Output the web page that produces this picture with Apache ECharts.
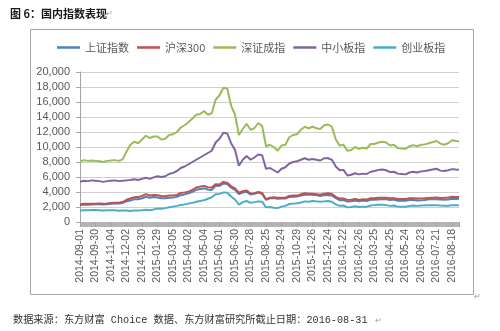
<!DOCTYPE html>
<html>
<head>
<meta charset="utf-8">
<script src="https://cdn.jsdelivr.net/npm/echarts@6/dist/echarts.min.js"></script>
<style>
  html, body { margin: 0; padding: 0; background: #ffffff; }
  #chart { width: 500px; height: 331px; }
</style>
</head>
<body>
<div id="chart"></div>
<script>
// Trading-day number (0 = 2014-09-01) of each weekly sample
const tradingDay = [
  0, 5, 10, 15, 20, 25, 30, 35, 40, 45,
  50, 55, 60, 65, 70, 75, 80, 85, 90, 95,
  100, 105, 110, 115, 120, 125, 130, 135, 140, 145,
  150, 155, 160, 165, 170, 175, 180, 185, 190, 195,
  200, 205, 210, 215, 220, 225, 230, 235, 240, 245,
  250, 255, 260, 265, 270, 275, 280, 285, 290, 295,
  300, 305, 310, 315, 320, 325, 330, 335, 340, 345,
  350, 355, 360, 365, 370, 375, 380, 385, 390, 395,
  400, 405, 410, 415, 420, 425, 430, 435, 440, 445,
  450, 455, 460, 465, 470, 475, 480, 485, 489
];

// Axis labels, one every 20 trading days
const tickLabels = [
  '2014-09-01', '2014-09-30', '2014-11-04', '2014-12-02', '2014-12-30',
  '2015-01-29', '2015-03-05', '2015-04-02', '2015-05-04', '2015-06-01',
  '2015-06-30', '2015-07-28', '2015-08-25', '2015-09-24', '2015-10-29',
  '2015-11-26', '2015-12-24', '2016-01-22', '2016-02-26', '2016-03-25',
  '2016-04-25', '2016-05-24', '2016-06-23', '2016-07-21', '2016-08-18'
];

const seriesNames = ['上证指数', '沪深300', '深证成指', '中小板指', '创业板指'];

const shanghai = [
  2235, 2330, 2290, 2330, 2364, 2370, 2340, 2370, 2430, 2470,
  2460, 2540, 2760, 2860, 3020, 3030, 3165, 3370, 3220, 3320,
  3260, 3170, 3170, 3230, 3250, 3350, 3580, 3680, 3825, 4030,
  4290, 4390, 4480, 4330, 4280, 4810, 4830, 5130, 5060, 4580,
  4280, 3730, 3920, 4020, 3660, 3760, 3930, 3750, 2960, 3170,
  3200, 3100, 3140, 3140, 3340, 3370, 3390, 3520, 3630, 3620,
  3640, 3580, 3460, 3580, 3610, 3540, 3190, 2900, 2920, 2740,
  2780, 2860, 2770, 2870, 2810, 2960, 2980, 3010, 3030, 3030,
  2946, 2990, 2830, 2840, 2820, 2920, 2930, 2870, 2890, 2930,
  3020, 3050, 3040, 2990, 2980, 3000, 3100, 3070, 3085
];

const hs300 = [
  2360, 2450, 2420, 2450, 2450, 2460, 2440, 2460, 2530, 2580,
  2560, 2660, 2960, 3130, 3290, 3320, 3490, 3720, 3540, 3610,
  3570, 3460, 3450, 3520, 3530, 3600, 3870, 3950, 4050, 4280,
  4600, 4720, 4790, 4650, 4590, 5040, 5000, 5350, 5220, 4760,
  4470, 3900, 4100, 4200, 3800, 3850, 4020, 3860, 3040, 3250,
  3290, 3220, 3250, 3250, 3460, 3520, 3520, 3690, 3830, 3760,
  3760, 3710, 3630, 3770, 3840, 3730, 3360, 3120, 3140, 2950,
  2980, 3080, 2950, 3030, 3000, 3170, 3180, 3220, 3230, 3250,
  3160, 3180, 3070, 3060, 3060, 3170, 3180, 3120, 3150, 3160,
  3210, 3250, 3270, 3210, 3220, 3250, 3370, 3330, 3320
];

const shenzhen = [
  8050, 8250, 8150, 8200, 8150, 8100, 8000, 8150, 8200, 8250,
  8150, 8350, 9400, 10300, 10700, 10500, 11000, 11500, 11200, 11400,
  11400, 11000, 11100, 11600, 11700, 12000, 12600, 12900, 13300, 13800,
  14300, 14400, 14800, 14300, 14500, 16300, 16900, 17900, 17800, 15500,
  14300, 11600, 12400, 13100, 12300, 12500, 13200, 12800, 10100, 10300,
  10000, 9500, 10200, 10300, 11300, 11600, 11700, 12300, 12700, 12500,
  12700, 12500, 12400, 12900, 13000, 12700, 11000, 10200, 10300, 9500,
  9600, 10000, 9750, 9900, 9800, 10400, 10400, 10600, 10700, 10600,
  10200, 10300, 9850, 9800, 9750, 10100, 10250, 10100, 10300, 10350,
  10500, 10650, 10800, 10450, 10300, 10500, 10900, 10800, 10760
];

const smeBoard = [
  5350, 5500, 5450, 5550, 5500, 5450, 5350, 5450, 5500, 5550,
  5450, 5500, 5550, 5600, 5700, 5600, 5750, 5900, 5750, 5950,
  6100, 6000, 6100, 6400, 6550, 6800, 7200, 7400, 7700, 8000,
  8300, 8600, 8900, 9200, 9500, 10600, 11100, 11900, 11800, 10500,
  9600, 7500, 8300, 8800, 8300, 8600, 9000, 8900, 7100, 7200,
  6900, 6600, 7100, 7300, 7800, 8000, 8100, 8300, 8500, 8300,
  8400, 8300, 8200, 8500, 8500, 8300, 7400, 6900, 6950, 6200,
  6300, 6500, 6350, 6450, 6400, 6700, 6800, 6950, 7000, 6900,
  6650, 6700, 6450, 6400, 6350, 6600, 6700, 6600, 6750, 6800,
  6900, 7000, 7100, 6850, 6800, 6900, 7050, 7000, 6980
];

const chinext = [
  1530, 1580, 1560, 1600, 1600, 1580, 1530, 1560, 1570, 1560,
  1500, 1520, 1530, 1480, 1550, 1530, 1560, 1620, 1580, 1680,
  1800, 1780, 1850, 1960, 2050, 2150, 2280, 2350, 2450, 2550,
  2700, 2800, 2900, 3100, 3300, 3700, 3750, 3950, 3900, 3400,
  3000, 2300, 2650, 2800, 2550, 2650, 2750, 2700, 1950, 2000,
  1900, 1850, 2050, 2150, 2400, 2450, 2500, 2600, 2750, 2700,
  2800, 2750, 2700, 2750, 2800, 2700, 2350, 2150, 2200, 1950,
  2000, 2100, 2000, 2050, 2050, 2200, 2250, 2300, 2300, 2250,
  2150, 2200, 2050, 2040, 2040, 2150, 2200, 2150, 2200, 2220,
  2250, 2250, 2250, 2200, 2180, 2180, 2230, 2220, 2230
];

const seriesValues = [shanghai, hs300, shenzhen, smeBoard, chinext];
const seriesColors = ['#4F81BD', '#C0504D', '#9BBB59', '#8064A2', '#4BACC6'];

const chart = echarts.init(document.getElementById('chart'), null, { renderer: 'canvas' });

const cjk = "'Noto Sans CJK SC', sans-serif";
const latin = "'Liberation Sans', Arial, sans-serif";

chart.setOption({
  animation: false,
  backgroundColor: '#ffffff',
  color: seriesColors,
  grid: { left: 80, right: 41, top: 72, bottom: 109, containLabel: false },
  legend: {
    left: 52,
    top: 37,
    icon: 'rect',
    itemWidth: 23,
    itemHeight: 2.5,
    itemGap: 8,
    textStyle: { fontFamily: cjk, fontSize: 11, color: '#595959' },
    data: seriesNames
  },
  xAxis: {
    type: 'value',
    min: 0,
    max: 489,
    interval: 20,
    axisLine: { show: true, lineStyle: { color: '#a6a6a6', width: 1 } },
    axisTick: { show: true, length: 5, lineStyle: { color: '#a6a6a6' } },
    minorTick: { show: true, splitNumber: 20, length: 5, lineStyle: { color: '#b4b4b4' } },
    splitLine: { show: false },
    axisLabel: {
      rotate: 90,
      margin: 7,
      fontFamily: latin,
      fontSize: 10.5,
      color: '#595959',
      showMaxLabel: false,
      formatter: function (v) {
        const k = v / 20;
        return Number.isInteger(k) && tickLabels[k] ? tickLabels[k] : '';
      }
    }
  },
  yAxis: {
    type: 'value',
    min: 0,
    max: 20000,
    interval: 2000,
    axisLine: { show: true, lineStyle: { color: '#a6a6a6' } },
    axisTick: { show: true, length: 4, lineStyle: { color: '#a6a6a6' } },
    splitLine: { show: true, lineStyle: { color: '#d0d0d0', width: 1 } },
    axisLabel: { margin: 10, fontFamily: latin, fontSize: 11, color: '#595959' }
  },
  series: seriesNames.map(function (name, s) {
    return {
      name: name,
      type: 'line',
      symbol: 'none',
      smooth: false,
      lineStyle: { width: 2, color: seriesColors[s] },
      itemStyle: { color: seriesColors[s] },
      data: tradingDay.map(function (d, i) { return [d, seriesValues[s][i]]; })
    };
  }),
  graphic: [
    {
      type: 'rect',
      shape: { x: 30.5, y: 29.5, width: 443, height: 265 },
      style: { fill: 'none', stroke: '#a6a6a6', lineWidth: 1 },
      z: -1
    },
    {
      type: 'text',
      left: 10,
      top: 8,
      style: { text: '图 6：国内指数表现', fontFamily: cjk, fontSize: 11, fontWeight: 'bold', fill: '#1a1a1a' }
    },
    {
      type: 'text',
      left: 106,
      top: 9,
      style: { text: '↵', fontFamily: cjk, fontSize: 8, fill: '#9a9a9a' }
    },
    {
      type: 'text',
      left: 13,
      top: 315,
      style: {
        text: '数据来源：东方财富 Choice 数据、东方财富研究所截止日期：2016-08-31',
        fontFamily: "'Liberation Mono', 'Noto Sans CJK SC', monospace",
        fontSize: 10.2,
        fill: '#333333'
      }
    },
    {
      type: 'text',
      left: 375,
      top: 316,
      style: { text: '↵', fontFamily: cjk, fontSize: 8, fill: '#9a9a9a' }
    },
    {
      type: 'text',
      left: 474,
      top: 292,
      style: { text: '↵', fontFamily: cjk, fontSize: 8, fill: '#9a9a9a' }
    }
  ]
});
</script>
</body>
</html>
